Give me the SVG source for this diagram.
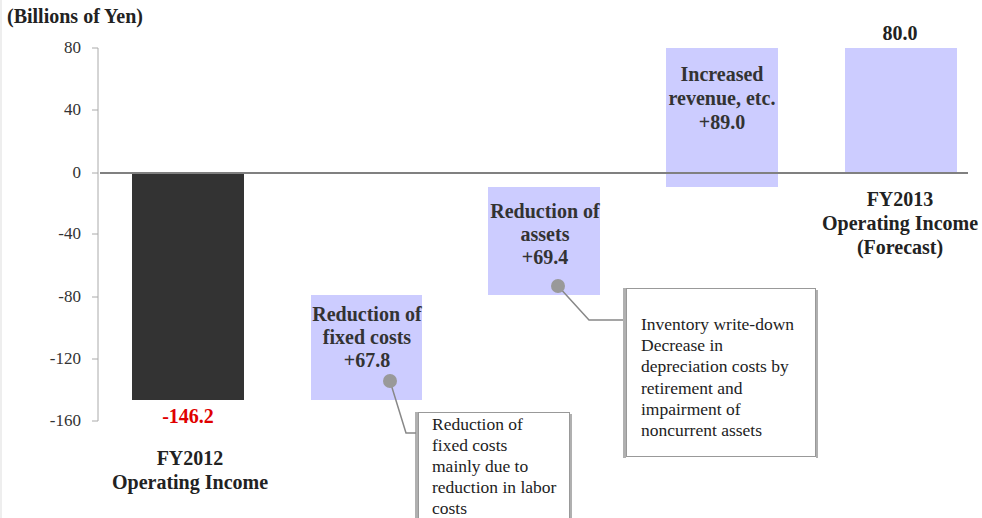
<svg xmlns="http://www.w3.org/2000/svg" width="982" height="518" viewBox="0 0 982 518">
<style>
text{font-family:"Liberation Serif","Times New Roman",serif;fill:#333}
.b{font-weight:bold;font-size:20px;text-anchor:middle}
.tick{font-size:17px;text-anchor:end}
.note{font-size:17.5px;fill:#222}
.bar{fill:#ccccff}
.box{fill:#fff;stroke:#999;stroke-width:1}
.shadow{fill:#b0b0b0}
.lead{fill:none;stroke:#888;stroke-width:1.5}
.dot{fill:#999}
</style>
<rect x="0" y="0" width="982" height="518" fill="#fff"/>
<line x1="1" y1="0" x2="1" y2="518" stroke="#ddd" stroke-width="1"/>
<g id="axis">
<text x="7" y="23" style="font-weight:bold;font-size:20px;fill:#222">(Billions of Yen)</text>
<line x1="98" y1="48" x2="98" y2="421" stroke="#aaa" stroke-width="1"/>
<g stroke="#aaa" stroke-width="1">
<line x1="92" y1="48" x2="98" y2="48"/>
<line x1="92" y1="110" x2="98" y2="110"/>
<line x1="92" y1="173" x2="98" y2="173"/>
<line x1="92" y1="234" x2="98" y2="234"/>
<line x1="92" y1="297" x2="98" y2="297"/>
<line x1="92" y1="359" x2="98" y2="359"/>
<line x1="92" y1="421" x2="98" y2="421"/>
</g>
<text class="tick" x="81" y="53">80</text>
<text class="tick" x="81" y="115">40</text>
<text class="tick" x="81" y="178">0</text>
<text class="tick" x="81" y="239">-40</text>
<text class="tick" x="81" y="302">-80</text>
<text class="tick" x="81" y="364">-120</text>
<text class="tick" x="81" y="426">-160</text>
</g>
<g id="bar-fy2012">
<rect x="132" y="173" width="112" height="227" fill="#333"/>
<text class="b" x="188" y="423" style="fill:#e00000">-146.2</text>
<text class="b" x="190" y="465" style="fill:#222">FY2012</text>
<text class="b" x="190" y="489" style="fill:#222">Operating Income</text>
</g>
<g id="bar-fixed-costs">
<rect class="bar" x="311" y="295" width="111" height="105"/>
<text class="b" x="367" y="321">Reduction of</text>
<text class="b" x="367" y="344">fixed costs</text>
<text class="b" x="367" y="367">+67.8</text>
</g>
<g id="bar-assets">
<rect class="bar" x="488" y="187" width="112" height="108"/>
<text class="b" x="545" y="218">Reduction of</text>
<text class="b" x="545" y="241">assets</text>
<text class="b" x="545" y="264">+69.4</text>
</g>
<g id="bar-revenue">
<rect class="bar" x="666" y="48" width="112" height="139"/>
<text class="b" x="722" y="81">Increased</text>
<text class="b" x="722" y="105">revenue, etc.</text>
<text class="b" x="722" y="129">+89.0</text>
</g>
<g id="bar-fy2013">
<rect class="bar" x="845" y="48" width="112" height="125"/>
<text class="b" x="900" y="40" style="fill:#222">80.0</text>
<text class="b" x="900" y="206" style="fill:#222">FY2013</text>
<text class="b" x="900" y="230" style="fill:#222">Operating Income</text>
<text class="b" x="900" y="254" style="fill:#222">(Forecast)</text>
</g>
<g id="zero-line">
<line x1="100" y1="173" x2="968" y2="173" stroke="#808080" stroke-width="2"/>
</g>
<g id="callout-fixed-costs">
<rect class="shadow" x="415" y="412" width="3" height="110"/>
<rect class="shadow" x="570" y="414" width="2" height="110"/>
<rect class="box" x="418.5" y="412.5" width="151" height="110"/>
<text class="note" x="432" y="430">Reduction of</text>
<text class="note" x="432" y="451">fixed costs</text>
<text class="note" x="432" y="472">mainly due to</text>
<text class="note" x="432" y="493">reduction in labor</text>
<text class="note" x="432" y="514">costs</text>
</g>
<g id="callout-assets">
<rect class="shadow" x="623" y="288" width="3" height="170"/>
<rect class="shadow" x="816" y="290" width="2" height="168"/>
<rect class="box" x="626.5" y="288.5" width="189" height="168"/>
<text class="note" x="641" y="330">Inventory write-down</text>
<text class="note" x="641" y="351">Decrease in</text>
<text class="note" x="641" y="372">depreciation costs by</text>
<text class="note" x="641" y="394">retirement and</text>
<text class="note" x="641" y="415">impairment of</text>
<text class="note" x="641" y="436">noncurrent assets</text>
</g>
<g id="connectors">
<polyline class="lead" points="390,381 406,433 416,433"/>
<circle class="dot" cx="390" cy="381" r="7"/>
<polyline class="lead" points="558,286 589,320 623,320"/>
<circle class="dot" cx="558" cy="286" r="7"/>
</g>
</svg>
